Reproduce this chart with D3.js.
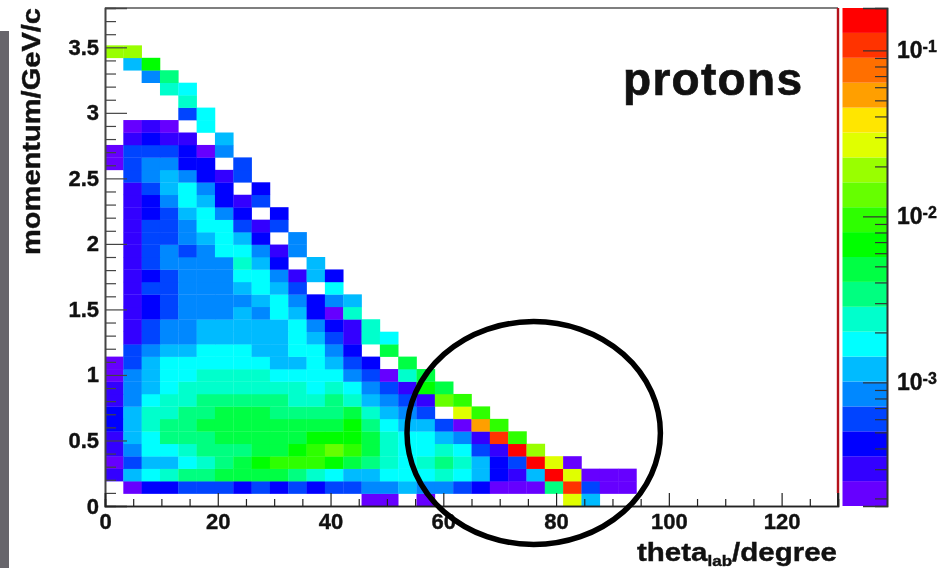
<!DOCTYPE html>
<html>
<head>
<meta charset="utf-8">
<title>protons</title>
<script src="https://cdn.jsdelivr.net/npm/d3@7"></script>
<style>
  html, body { margin: 0; padding: 0; background: #fff; }
  svg { display: block; filter: blur(0.4px); }
  text { font-family: "Liberation Sans", Arial, sans-serif; font-weight: bold; fill: #111; stroke: #111; stroke-width: 0.4px; }
</style>
</head>
<body>
<svg width="951" height="568"></svg>
<script>
// colour bands of the palette, lowest first
var palette = ['#6600ff', '#3300ff', '#0000ff', '#0044ff', '#0088ff', '#00bbff', '#00ffff', '#00ffcc', '#00ff80', '#00ff44',
  '#00ff00', '#2eff00', '#66ff00', '#99ff00', '#e0ff00', '#ffe600', '#ff9f00', '#ff6f00', '#ff3300', '#ff0000'];

var yMajor = [0, 0.5, 1, 1.5, 2, 2.5, 3, 3.5];
var yMinor = [0.1, 0.2, 0.3, 0.4, 0.6, 0.7, 0.8, 0.9, 1.1, 1.2, 1.3, 1.4, 1.6, 1.7, 1.8, 1.9, 2.1, 2.2, 2.3, 2.4, 2.6, 2.7, 2.8, 2.9, 3.1, 3.2, 3.3, 3.4, 3.6, 3.7];
var xMajor = [0, 20, 40, 60, 80, 100, 120];
var xMinor = [5, 10, 15, 25, 30, 35, 45, 50, 55, 65, 70, 75, 85, 90, 95, 105, 110, 115, 125];
var zMajor = [1e-1, 1e-2, 1e-3];
var zMinor = [9e-2, 8e-2, 7e-2, 6e-2, 5e-2, 4e-2, 3e-2, 2e-2, 9e-3, 8e-3, 7e-3, 6e-3, 5e-3, 4e-3, 3e-3, 2e-3, 9e-4, 8e-4, 7e-4, 6e-4, 5e-4, 4e-4, 3e-4, 2e-4];

// histogram: one line per momentum bin (bottom bin first),
// one entry per theta bin, holding the colour band (1-20), 0 = empty bin
var rows = [
  [0, 0, 0, 0, 0, 0, 0, 0, 0, 0, 0, 0, 0, 0, 1, 1, 0, 1, 0, 0, 0, 0, 0, 0, 0, 15, 6],
  [0, 1, 3, 3, 4, 4, 4, 3, 4, 3, 4, 3, 4, 4, 5, 5, 6, 5, 5, 4, 3, 1, 1, 1, 9, 19, 4, 1, 1],
  [2, 6, 7, 8, 9, 9, 10, 10, 10, 10, 9, 8, 7, 6, 6, 7, 7, 7, 8, 7, 6, 3, 2, 6, 20, 15, 1, 1, 1],
  [1, 4, 6, 6, 7, 8, 9, 10, 11, 12, 12, 12, 11, 10, 9, 8, 7, 8, 9, 8, 6, 3, 4, 20, 15, 1],
  [2, 5, 7, 7, 8, 9, 9, 9, 10, 10, 11, 12, 13, 12, 10, 8, 7, 7, 8, 7, 4, 2, 20, 14],
  [2, 6, 7, 9, 9, 9, 10, 10, 10, 10, 10, 11, 11, 11, 10, 8, 7, 7, 6, 5, 2, 19, 12],
  [3, 6, 8, 9, 9, 10, 10, 10, 10, 10, 10, 10, 10, 11, 9, 7, 6, 6, 4, 1, 17, 12],
  [3, 6, 8, 8, 9, 9, 10, 10, 10, 9, 9, 9, 9, 10, 8, 6, 5, 4, 0, 15, 12],
  [2, 5, 7, 8, 8, 9, 9, 9, 9, 9, 8, 8, 9, 8, 6, 5, 4, 2, 13, 12],
  [2, 5, 6, 7, 8, 8, 8, 8, 8, 8, 8, 7, 8, 7, 5, 4, 2, 11, 10],
  [1, 5, 6, 7, 7, 8, 8, 8, 8, 7, 7, 7, 7, 5, 4, 1, 8, 10],
  [1, 4, 6, 7, 7, 7, 7, 7, 7, 6, 6, 7, 6, 4, 3, 0, 10],
  [0, 4, 5, 6, 6, 7, 7, 7, 6, 6, 7, 7, 5, 3, 0, 10],
  [0, 2, 4, 5, 5, 6, 6, 6, 6, 6, 7, 6, 4, 2, 8, 7],
  [0, 2, 4, 5, 5, 6, 6, 6, 6, 6, 7, 5, 3, 2, 8],
  [0, 2, 3, 4, 5, 5, 5, 6, 5, 7, 6, 3, 1, 8],
  [0, 2, 3, 4, 5, 5, 5, 5, 6, 7, 5, 3, 5, 6],
  [0, 2, 4, 4, 5, 5, 5, 6, 7, 6, 4, 0, 7],
  [0, 2, 3, 4, 5, 5, 5, 7, 7, 5, 2, 6, 3],
  [0, 2, 4, 5, 5, 5, 5, 8, 6, 3, 0, 6],
  [0, 2, 4, 5, 4, 5, 7, 7, 5, 2, 5],
  [0, 2, 4, 4, 5, 6, 7, 6, 3, 0, 5],
  [0, 2, 4, 4, 5, 7, 7, 4, 2, 4],
  [0, 2, 3, 4, 6, 7, 5, 3, 0, 3],
  [0, 2, 3, 5, 7, 6, 3, 2, 4],
  [0, 2, 4, 6, 7, 5, 3, 0, 3],
  [0, 4, 5, 6, 5, 3, 2, 4],
  [1, 4, 5, 5, 3, 3, 0, 4],
  [1, 4, 4, 4, 3, 1, 5],
  [0, 2, 3, 2, 2, 0, 6],
  [0, 1, 2, 1, 0, 7],
  [0, 0, 0, 0, 4, 7],
  [0, 0, 0, 0, 8],
  [0, 0, 0, 8, 7],
  [0, 0, 5, 9],
  [0, 6, 11],
  [14, 14]
];

var thetaBin = 3.25, momentumBin = 0.095;
var logMin = Math.log10(1.8e-4), logMax = Math.log10(0.18);
var logStep = (logMax - logMin) / palette.length;

var svg = d3.select('svg');

var x = d3.scaleLinear().domain([0, 130]).range([105, 838]);
var y = d3.scaleLinear().domain([0, 3.8]).range([506, 8]);
var z = d3.scaleLog().domain([1.8e-4, 0.18]).range([506, 8]);
var color = d3.scaleQuantize().domain([logMin, logMax]).range(palette);

// grey strip left over from the slide behind the plot
svg.append('rect')
   .attr('x', 0)
   .attr('y', 31)
   .attr('width', 9)
   .attr('height', 537)
   .style('fill', '#67656b');

var cells = [];
rows.forEach(function (row, j) {
  row.forEach(function (band, i) {
    if (band > 0) {
      cells.push({theta: i * thetaBin, p: j * momentumBin, value: logMin + (band - 0.5) * logStep});
    }
  });
});

svg.append('g').selectAll('rect')
   .data(cells)
   .join('rect')
   .attr('x', function (d) { return x(d.theta); })
   .attr('y', function (d) { return y(d.p + momentumBin); })
   .attr('width', x(thetaBin) - x(0) + 0.3)
   .attr('height', y(0) - y(momentumBin) + 0.3)
   .style('fill', function (d) { return color(d.value); });

// frame
svg.append('path')
   .attr('d', 'M' + x(0) + ',' + y(3.8) + 'H' + x(130))
   .style('stroke', '#555')
   .style('stroke-width', 1.5);
svg.append('path')
   .attr('d', 'M' + x(130) + ',' + y(3.8) + 'V' + y(0.1))
   .style('stroke', '#b5121c')
   .style('stroke-width', 2.4);
svg.append('path')
   .attr('d', 'M' + x(130) + ',' + y(0.1) + 'V' + y(0))
   .style('stroke', '#222')
   .style('stroke-width', 2);

function axisStyle(g, color) {
  g.selectAll('.domain').style('stroke', color).style('stroke-width', 1.6);
  g.selectAll('.tick line').style('stroke', color).style('stroke-width', 1.2);
  g.selectAll('text').attr('fill', null).style('font-size', '22px');
  g.attr('font-family', null).attr('font-size', null);
}

var yAxis = svg.append('g')
   .attr('transform', 'translate(' + x(0) + ',0)')
   .call(d3.axisLeft(y).tickValues(yMajor).tickSize(-22).tickPadding(6).tickFormat(d3.format('~g')));
axisStyle(yAxis, '#444');
var yAxisMinor = svg.append('g')
   .attr('transform', 'translate(' + x(0) + ',0)')
   .call(d3.axisLeft(y).tickValues(yMinor).tickSize(-11).tickFormat(''));
axisStyle(yAxisMinor, '#444');

var xAxis = svg.append('g')
   .attr('transform', 'translate(0,' + y(0) + ')')
   .call(d3.axisBottom(x).tickValues(xMajor).tickSize(-13).tickPadding(7).tickFormat(d3.format('d')));
axisStyle(xAxis, '#222');
var xAxisMinor = svg.append('g')
   .attr('transform', 'translate(0,' + y(0) + ')')
   .call(d3.axisBottom(x).tickValues(xMinor).tickSize(-7).tickFormat(''));
axisStyle(xAxisMinor, '#222');

// colour bar
svg.append('g').selectAll('rect')
   .data(palette)
   .join('rect')
   .attr('x', 842.5)
   .attr('y', function (d, i) { return z(Math.pow(10, logMin + (i + 1) * logStep)); })
   .attr('width', 44.5)
   .attr('height', z(Math.pow(10, logMin)) - z(Math.pow(10, logMin + logStep)))
   .style('fill', function (d) { return d; });

var zAxis = svg.append('g')
   .attr('transform', 'translate(887,0)')
   .call(d3.axisRight(z).tickValues(zMajor).tickSize(-24).tickPadding(10).tickFormat(function () { return '10'; }));
axisStyle(zAxis, '#333');
zAxis.selectAll('text')
   .style('font-size', '23px')
   .append('tspan')
   .attr('dy', '-0.42em')
   .style('font-size', '16px')
   .text(function (d) { return String(Math.round(Math.log10(d))); });
var zAxisMinor = svg.append('g')
   .attr('transform', 'translate(887,0)')
   .call(d3.axisRight(z).tickValues(zMinor).tickSize(-12).tickFormat(''));
axisStyle(zAxisMinor, '#333');

// titles
svg.append('text')
   .attr('transform', 'translate(40,255) rotate(-90)')
   .attr('textLength', 247)
   .attr('lengthAdjust', 'spacingAndGlyphs')
   .style('font-size', '26px')
   .text('momentum/GeV/c');

var xTitle = svg.append('text')
   .attr('x', 637)
   .attr('y', 561)
   .attr('textLength', 200)
   .attr('lengthAdjust', 'spacingAndGlyphs')
   .style('font-size', '26px');
xTitle.append('tspan').text('theta');
xTitle.append('tspan').attr('dy', 5).style('font-size', '15px').text('lab');
xTitle.append('tspan').attr('dy', -5).text('/degree');

svg.append('text')
   .attr('x', 623)
   .attr('y', 94.5)
   .attr('textLength', 179)
   .style('font-size', '46px')
   .style('stroke-width', '0.7px')
   .text('protons');

// hand drawn ring around the high angle tail
svg.append('ellipse')
   .attr('cx', 533.7)
   .attr('cy', 433)
   .attr('rx', 126.7)
   .attr('ry', 111.5)
   .style('fill', 'none')
   .style('stroke', '#000')
   .style('stroke-width', 5.5);
</script>
</body>
</html>
